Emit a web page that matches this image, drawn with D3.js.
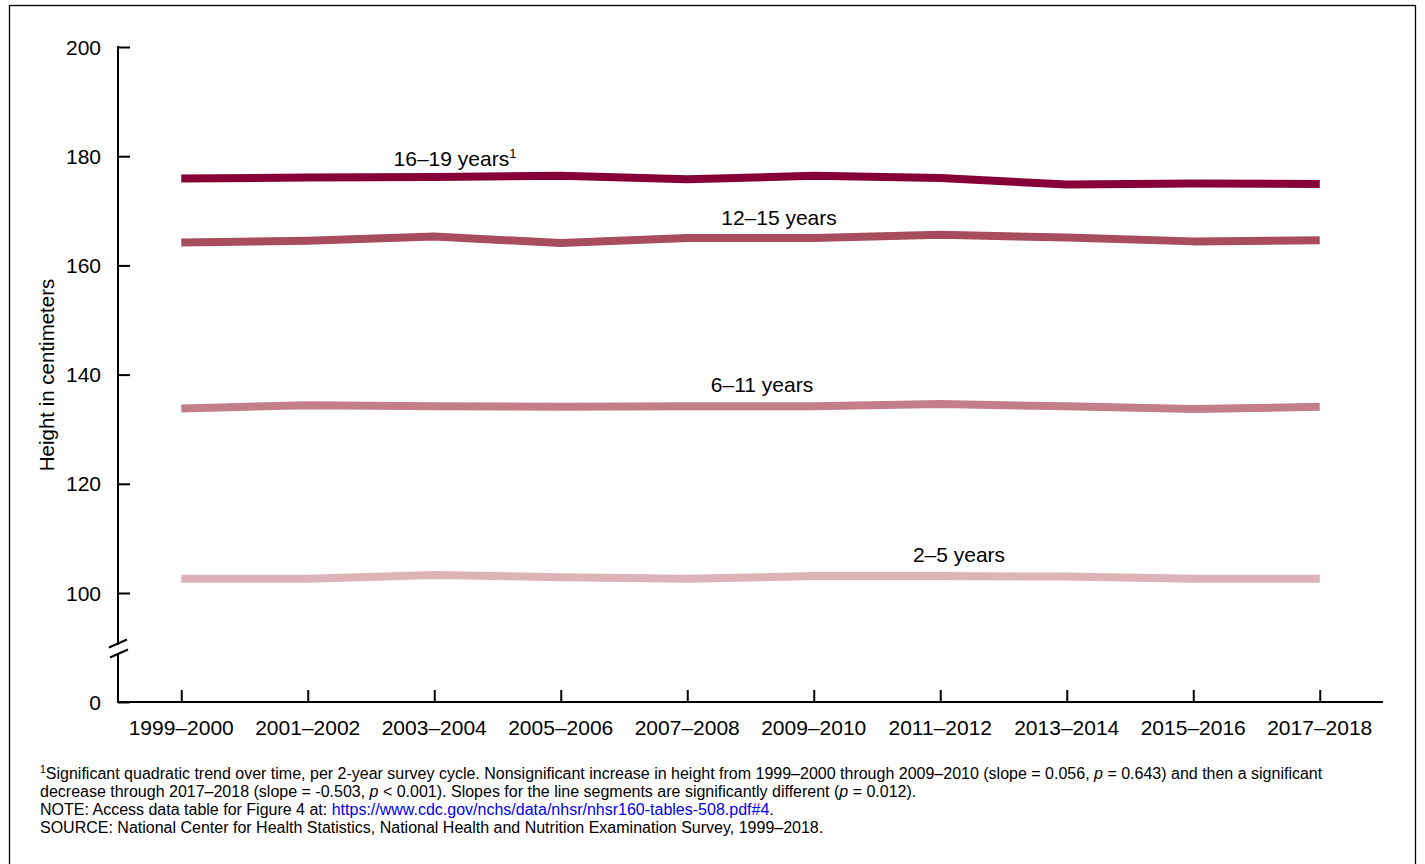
<!DOCTYPE html>
<html><head><meta charset="utf-8">
<script src="https://cdn.jsdelivr.net/npm/d3@7"></script>
<style>
body{margin:0;background:#fff;}
svg{display:block;font-family:Arial,"Liberation Sans",sans-serif;}
</style></head><body>
<svg id="c" width="1425" height="864"></svg>
<script>
const cycles = ["1999–2000","2001–2002","2003–2004","2005–2006","2007–2008","2009–2010","2011–2012","2013–2014","2015–2016","2017–2018"];
const age16_19 = [175.9,176.1,176.2,176.4,175.8,176.4,176.0,174.8,175.0,174.9];
const age12_15 = [164.2,164.5,165.3,164.1,165.0,165.0,165.6,165.1,164.4,164.6];
const age6_11  = [133.8,134.4,134.2,134.1,134.2,134.2,134.6,134.2,133.7,134.1];
const age2_5   = [102.6,102.6,103.3,102.9,102.6,103.1,103.1,103.0,102.6,102.6];
const seriesNames = ["16–19 years","12–15 years","6–11 years","2–5 years"];
const seriesColors = ["#860037","#a74d5e","#c37e8a","#ddb2b9"];
const yTicks = [0,100,120,140,160,180,200];
const series = [age16_19, age12_15, age6_11, age2_5];

const svg = d3.select("#c");
// outer border
svg.append("rect").attr("x",9.5).attr("y",5.5).attr("width",1406).attr("height",870)
  .attr("fill","none").attr("stroke","#000").attr("stroke-width",1.3);

const x = d3.scalePoint().domain(cycles).range([118,1383]).padding(0.5);
const y = d3.scaleLinear().domain([0,100,200]).range([702,593,47]);

// lines
const line = d3.line().x((d,i)=>x(cycles[i])).y(d=>y(d));
series.forEach((s,k)=>{
  svg.append("path").datum(s).attr("d",line).attr("fill","none")
    .attr("stroke",seriesColors[k]).attr("stroke-width",8).attr("stroke-linejoin","round");
});

// y axis
const yAxis = svg.append("g").attr("transform","translate(118,0)")
  .call(d3.axisRight(y).tickValues(yTicks).tickSize(12).tickFormat(""));
yAxis.select(".domain").remove();
yAxis.selectAll(".tick line").attr("stroke","#000").attr("stroke-width",2);
svg.append("line").attr("x1",118).attr("x2",118).attr("y1",y(200)-1).attr("y2",645).attr("stroke","#000").attr("stroke-width",2);
svg.append("line").attr("x1",118).attr("x2",118).attr("y1",654).attr("y2",703).attr("stroke","#000").attr("stroke-width",2);
// break marks
svg.append("line").attr("x1",109).attr("y1",647.5).attr("x2",127).attr("y2",639.5).attr("stroke","#000").attr("stroke-width",2);
svg.append("line").attr("x1",110).attr("y1",657.5).attr("x2",128).attr("y2",649.5).attr("stroke","#000").attr("stroke-width",2);
// y tick labels
svg.append("g").selectAll("text").data(yTicks).join("text")
  .attr("x",101).attr("y",d=>y(d)).attr("dy","0.36em").attr("text-anchor","end")
  .attr("font-size",21).attr("fill","#000").text(d=>d);

// x axis
const xAxis = svg.append("g").attr("transform","translate(0,702)")
  .call(d3.axisTop(x).tickSize(12).tickSizeOuter(0).tickFormat(""));
xAxis.select(".domain").attr("d","M117,0H1383").attr("stroke","#000").attr("stroke-width",2);
xAxis.selectAll(".tick line").attr("stroke","#000").attr("stroke-width",2);
svg.append("g").selectAll("text").data(cycles).join("text")
  .attr("x",d=>x(d)).attr("y",735).attr("text-anchor","middle")
  .attr("font-size",21).attr("fill","#000").text(d=>d);

// y title
svg.append("text").attr("transform","translate(54,375) rotate(-90)")
  .attr("text-anchor","middle").attr("font-size",20.5).attr("fill","#000").text("Height in centimeters");

// series labels
const labelPos = [[455,166],[779,225],[762,392],[959,562]];
seriesNames.forEach((n,k)=>{
  const t = svg.append("text").attr("x",labelPos[k][0]).attr("y",labelPos[k][1])
    .attr("text-anchor","middle").attr("font-size",21).attr("fill","#000");
  t.append("tspan").text(n);
  if(k===0) t.append("tspan").attr("font-size",13).attr("dy",-8).text("1");
});

// footnotes
const fn = svg.append("g").attr("font-size",16).attr("fill","#000");
const l1 = fn.append("text").attr("x",40).attr("y",779);
l1.append("tspan").attr("font-size",10.5).attr("dy",-6).text("1");
l1.append("tspan").attr("dy",6).text("Significant quadratic trend over time, per 2-year survey cycle. Nonsignificant increase in height from 1999–2000 through 2009–2010 (slope = 0.056, ");
l1.append("tspan").attr("font-style","italic").text("p");
l1.append("tspan").text(" = 0.643) and then a significant");
const l2 = fn.append("text").attr("x",40).attr("y",797);
l2.append("tspan").text("decrease through 2017–2018 (slope = -0.503, ");
l2.append("tspan").attr("font-style","italic").text("p");
l2.append("tspan").text(" < 0.001). Slopes for the line segments are significantly different (");
l2.append("tspan").attr("font-style","italic").text("p");
l2.append("tspan").text(" = 0.012).");
const l3 = fn.append("text").attr("x",40).attr("y",815);
l3.append("tspan").text("NOTE: Access data table for Figure 4 at: ");
l3.append("tspan").attr("fill","#0000ee").text("https://www.cdc.gov/nchs/data/nhsr/nhsr160-tables-508.pdf#4");
l3.append("tspan").text(".");
fn.append("text").attr("x",40).attr("y",833).text("SOURCE: National Center for Health Statistics, National Health and Nutrition Examination Survey, 1999–2018.");
</script>
</body></html>
